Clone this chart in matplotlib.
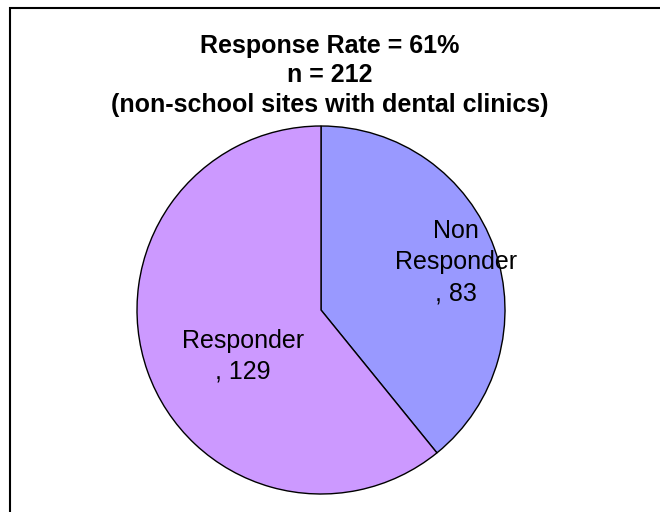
import numpy as np
import matplotlib
matplotlib.use('Agg')
import matplotlib.pyplot as plt
from matplotlib.patches import Rectangle

# data
categories = ['Non Responder', 'Responder']
label_text = ['Non\nResponder', 'Responder']
counts = [83, 129]
colors = ['#9999FF', '#CC99FF']
title_lines = ['Response Rate = 61%', 'n = 212', '(non-school sites with dental clinics)']

plt.rcParams['font.family'] = ['Liberation Sans', 'DejaVu Sans']

fig = plt.figure(figsize=(6.6, 5.12), dpi=100)
fig.patch.set_facecolor('white')

# chart area border (runs off the right and bottom edges)
fig.patches.append(Rectangle((9.5 / 660, -0.1), 1.0, (512 - 7.5) / 512 + 0.1,
                             transform=fig.transFigure, fill=False,
                             edgecolor='black', linewidth=1.5))

# title
fig.text(0.5, 1 - 75.5 / 512, '\n'.join(title_lines), ha='center', va='center',
         fontsize=18, fontweight='bold', linespacing=1.3)

# pie
cx, cy, r = 321, 310, 184
ax = fig.add_axes([(cx - r) / 660, (512 - cy - r) / 512, 2 * r / 660, 2 * r / 512])
wedges, _ = ax.pie(counts, colors=colors, startangle=90, counterclock=False,
                   wedgeprops=dict(edgecolor='black', linewidth=1.0))
ax.set_xlim(-1, 1)
ax.set_ylim(-1, 1)
ax.set_aspect('equal')

# data labels
label_pos = [(0.735, 0.26), (-0.425, -0.25)]
for (x, y), name, v in zip(label_pos, label_text, counts):
    ax.text(x, y, f'{name}\n, {v}', ha='center', va='center',
            fontsize=18, linespacing=1.36)

fig.savefig('out.png', dpi=100)
